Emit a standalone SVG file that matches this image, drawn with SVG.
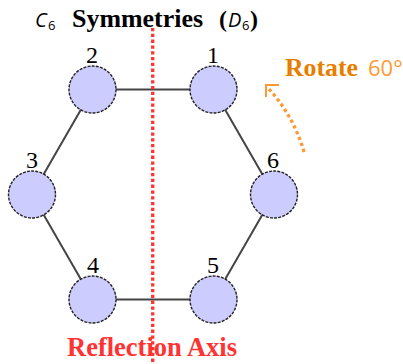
<svg xmlns="http://www.w3.org/2000/svg" width="403" height="364" viewBox="0 0 403 364">
<style>
.edge{stroke:#444;stroke-width:2;fill:none}
.node circle{fill:#ccccff;stroke:#222;stroke-width:1.4;stroke-dasharray:3 1.2}
.lbl{font-size:24px;fill:#000;text-anchor:middle}
</style>
<rect width="403" height="364" fill="#fff"/>
<g id="connectors">
<line class="edge" x1="92.5" y1="89.5" x2="213.5" y2="89.5"/>
<line class="edge" x1="213.5" y1="89.5" x2="274" y2="194.5"/>
<line class="edge" x1="274" y1="194.5" x2="213.5" y2="299.5"/>
<line class="edge" x1="213.5" y1="299.5" x2="92.5" y2="299.5"/>
<line class="edge" x1="92.5" y1="299.5" x2="32" y2="194.5"/>
<line class="edge" x1="32" y1="194.5" x2="92.5" y2="89.5"/>
</g>
<g id="n1" class="node"><circle cx="213.5" cy="89.5" r="23.5"/><text class="lbl" font-family="Liberation Serif, Times New Roman, serif" x="213" y="63">1</text></g>
<g id="n2" class="node"><circle cx="92.5" cy="89.5" r="23.5"/><text class="lbl" font-family="Liberation Serif, Times New Roman, serif" x="92" y="63">2</text></g>
<g id="n3" class="node"><circle cx="32" cy="194.5" r="23.5"/><text class="lbl" font-family="Liberation Serif, Times New Roman, serif" x="32" y="168">3</text></g>
<g id="n4" class="node"><circle cx="92.5" cy="299.5" r="23.5"/><text class="lbl" font-family="Liberation Serif, Times New Roman, serif" x="93" y="273">4</text></g>
<g id="n5" class="node"><circle cx="213.5" cy="299.5" r="23.5"/><text class="lbl" font-family="Liberation Serif, Times New Roman, serif" x="213" y="273">5</text></g>
<g id="n6" class="node"><circle cx="274" cy="194.5" r="23.5"/><text class="lbl" font-family="Liberation Serif, Times New Roman, serif" x="273" y="168">6</text></g>
<g id="axis">
<line x1="152.7" y1="28" x2="152.7" y2="364" stroke="#ff3333" stroke-width="3.3" stroke-dasharray="3.3 2.5"/>
<text x="67" y="356" font-family="Liberation Serif, Times New Roman, serif" font-weight="bold" font-size="27" fill="#ff3333" textLength="170" lengthAdjust="spacingAndGlyphs">Reflection Axis</text>
</g>
<g id="rotate">
<path d="M304,152 A157,157 0 0 0 268,88" fill="none" stroke="#ff9933" stroke-width="3.3" stroke-dasharray="3.3 3"/>
<path d="M266,97 L266,85 L279,85" fill="none" stroke="#ff9933" stroke-width="2"/>
<text x="285" y="76" fill="#e67e00" font-family="Liberation Serif, Times New Roman, serif" font-weight="bold" font-size="25" textLength="73" lengthAdjust="spacingAndGlyphs">Rotate</text>
<text x="368" y="76" fill="#ff9933" font-family="Open Sans, Liberation Sans, sans-serif" font-size="22">60°</text>
</g>
<g id="title">
<text x="35" y="27" font-family="Open Sans, Liberation Sans, sans-serif" font-style="italic" font-size="20">C</text>
<text x="48" y="30" font-family="Open Sans, Liberation Sans, sans-serif" font-size="13">6</text>
<text x="72" y="27" font-family="Liberation Serif, Times New Roman, serif" font-weight="bold" font-size="26" textLength="131" lengthAdjust="spacingAndGlyphs">Symmetries</text>
<text x="219" y="27" font-family="Liberation Serif, Times New Roman, serif" font-weight="bold" font-size="24">(</text>
<text x="228" y="27" font-family="Open Sans, Liberation Sans, sans-serif" font-style="italic" font-size="20">D</text>
<text x="242" y="30" font-family="Open Sans, Liberation Sans, sans-serif" font-size="13">6</text>
<text x="250" y="27" font-family="Liberation Serif, Times New Roman, serif" font-weight="bold" font-size="24">)</text>
</g>
</svg>
